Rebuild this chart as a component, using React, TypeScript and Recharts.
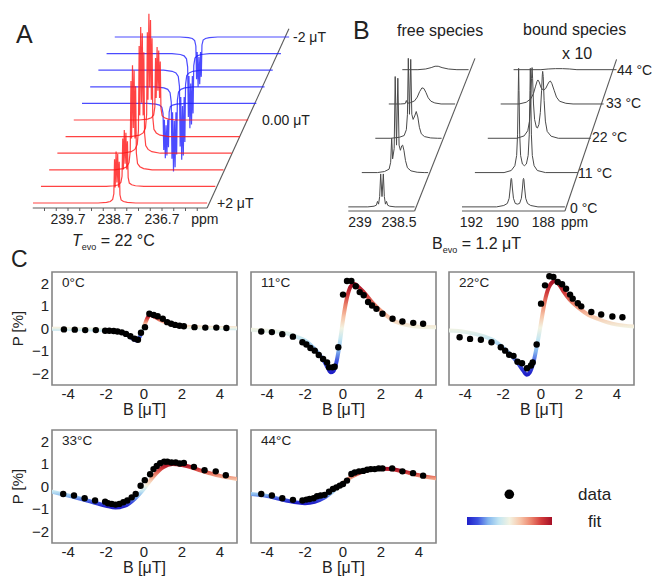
import React from "react";
import {
  ComposedChart,
  LineChart,
  Line,
  Scatter,
  XAxis,
  YAxis,
  ReferenceLine,
  ReferenceArea,
} from "recharts";

const FONT = "'Liberation Sans', Arial, Helvetica, sans-serif";
const INK = "#222";

// ---------- A: spectra vs evolution field (T_evo = 22 °C) ----------
const fieldsA = [2, 1.6, 1.2, 0.8, 0.4, 0, -0.4, -0.8, -1.2, -1.6, -2];
const ampA = [3.1, 3.4, 6.3, 7.6, 7.4, 4.4, -3.3, -5.1, -5.4, -4.5, -3.0];
const windowA = [240.45, 236.74];
const centerA = 238.66;
// multiplet: [offset ppm, relative height]
const lineshapeA = [
  [0.4, 0], [0.22, 0.012], [0.14, 0.03], [0.09, 0.07], [0.065, 0.18],
  [0.05, 0.85], [0.037, 0.3], [0.017, 1.0], [0.0, 0.4], [-0.017, 0.95], [-0.035, 0.3],
  [-0.05, 0.8], [-0.065, 0.16], [-0.09, 0.06], [-0.14, 0.03], [-0.22, 0.012], [-0.4, 0],
];
const ticksA = [240.2, 239.95, 239.7, 239.45, 239.2, 238.95, 238.7, 238.45, 238.2, 237.95, 237.7, 237.45, 237.2, 236.95];
const majorA = [239.7, 238.7, 237.7];
const majorLabelsA = ["239.7", "238.7", "236.7"];
const ppmPosA = 236.79;

// ---------- B: free / bound species vs temperature (B_evo = 1.2 μT) ----------
const tempsB = ["0 °C", "11 °C", "22 °C", "33 °C", "44 °C"];
const windowFree = [239.15, 238.3];
const windowBound = [192.52, 186.8];
const free0 = [[238.9, 0], [238.82, 0.02], [238.79, 0.05], [238.776, 0.16], [238.762, 0.08], [238.748, 0.3], [238.735, 0.96], [238.718, 0.3], [238.701, 0.96], [238.688, 0.3], [238.674, 0.08], [238.66, 0.16], [238.646, 0.05], [238.62, 0.02], [238.55, 0]];
const free11 = [[238.95, 0], [238.86, 0.03], [238.8, 0.1], [238.78, 0.3], [238.767, 1.0], [238.755, 0.4], [238.735, 0.7], [238.722, 2.8], [238.705, 0.8], [238.688, 2.75], [238.672, 0.8], [238.655, 0.65], [238.638, 0.78], [238.626, 0.8], [238.61, 0.65], [238.59, 0.35], [238.565, 0.14], [238.52, 0.05], [238.44, 0.01], [238.35, 0]];
const free22 = [[238.95, 0], [238.84, 0.03], [238.78, 0.08], [238.752, 0.25], [238.738, 0.7], [238.727, 2.33], [238.712, 0.7], [238.696, 2.3], [238.682, 0.7], [238.665, 0.55], [238.645, 0.65], [238.625, 0.78], [238.605, 0.62], [238.585, 0.32], [238.56, 0.13], [238.52, 0.05], [238.44, 0.01], [238.35, 0]];
const free33 = [[239.0, 0], [238.94, 0.01], [238.925, 0.1], [238.912, 0.02], [238.87, 0.04], [238.82, 0.09], [238.785, 0.2], [238.755, 0.36], [238.725, 0.47], [238.7, 0.45], [238.675, 0.34], [238.645, 0.18], [238.61, 0.08], [238.56, 0.03], [238.48, 0]];
const free44 = [[238.95, 0], [238.85, 0.02], [238.78, 0.06], [238.73, 0.1], [238.69, 0.1], [238.64, 0.06], [238.56, 0.02], [238.45, 0]];
const bound0 = [[190.6, 0], [190.2, 0.04], [190.0, 0.1], [189.9, 0.25], [189.84, 0.55], [189.8, 0.8], [189.78, 0.83], [189.76, 0.8], [189.72, 0.55], [189.66, 0.25], [189.56, 0.1], [189.44, 0.08], [189.32, 0.1], [189.22, 0.25], [189.16, 0.55], [189.12, 0.8], [189.1, 0.83], [189.08, 0.8], [189.04, 0.55], [188.98, 0.25], [188.88, 0.1], [188.7, 0.04], [188.3, 0]];
const bound11 = [[190.9, 0], [190.5, 0.06], [190.3, 0.2], [190.2, 0.5], [190.15, 1.1], [190.11, 2.4], [190.09, 3.04], [190.07, 2.4], [190.03, 1.1], [189.98, 0.5], [189.88, 0.25], [189.77, 0.2], [189.66, 0.25], [189.56, 0.5], [189.5, 1.1], [189.46, 2.4], [189.44, 3.04], [189.42, 2.4], [189.38, 1.1], [189.33, 0.5], [189.23, 0.2], [189.05, 0.06], [188.6, 0]];
const bound22 = [[190.9, 0], [190.5, 0.07], [190.3, 0.22], [190.2, 0.5], [190.14, 1.0], [190.09, 1.75], [190.06, 2.06], [190.03, 1.75], [189.98, 1.0], [189.92, 0.55], [189.82, 0.32], [189.76, 0.3], [189.68, 0.4], [189.6, 0.75], [189.53, 1.4], [189.49, 1.85], [189.47, 1.95], [189.44, 1.8], [189.39, 1.1], [189.32, 0.5], [189.22, 0.2], [189.0, 0.06], [188.6, 0]];
const bound33 = [[191.5, 0], [191.1, 0.05], [190.85, 0.15], [190.7, 0.3], [190.58, 0.52], [190.5, 0.66], [190.45, 0.7], [190.38, 0.64], [190.28, 0.48], [190.15, 0.4], [190.02, 0.45], [189.9, 0.58], [189.82, 0.65], [189.76, 0.67], [189.68, 0.6], [189.55, 0.4], [189.42, 0.2], [189.25, 0.08], [188.9, 0.02], [188.5, 0]];
const bound44 = [[191.0, 0], [190.6, 0.02], [190.2, 0.03], [189.8, 0.03], [189.4, 0.02], [189.0, 0]];
const freeTicks = [239, 238.5];
const boundTicks = [192, 190, 188];
const ppmPosBound = 186.26;

// ---------- C: polarisation vs field, [B μT, P %] ----------
const pts0C = [[-4.22, -0.04], [-3.65, -0.05], [-3.1, -0.07], [-2.54, -0.07], [-2.05, -0.1], [-1.83, -0.1], [-1.6, -0.11], [-1.4, -0.13], [-1.17, -0.17], [-0.95, -0.24], [-0.72, -0.34], [-0.5, -0.45], [-0.32, -0.5], [-0.16, -0.19], [0.05, 0.06], [0.28, 0.65], [0.51, 0.6], [0.72, 0.54], [0.99, 0.43], [1.22, 0.28], [1.43, 0.21], [1.64, 0.16], [1.87, 0.12], [2.1, 0.1], [2.66, 0.06], [3.23, 0.04], [3.81, 0.04], [4.34, 0.02]];
const fit0C = [[-4.85, -0.01], [-3, -0.03], [-2, -0.07], [-1.5, -0.12], [-1, -0.22], [-0.7, -0.38], [-0.5, -0.5], [-0.38, -0.53], [-0.25, -0.4], [-0.1, -0.1], [0.05, 0.2], [0.2, 0.5], [0.35, 0.6], [0.5, 0.55], [0.8, 0.4], [1.2, 0.25], [1.6, 0.15], [2, 0.1], [3, 0.04], [4.9, 0.01]];
const pts11C = [[-4.31, -0.13], [-3.75, -0.16], [-3.2, -0.25], [-2.64, -0.36], [-2.14, -0.61], [-1.93, -0.71], [-1.72, -0.86], [-1.49, -0.98], [-1.28, -1.17], [-1.05, -1.35], [-0.84, -1.5], [-0.74, -1.72], [-0.56, -1.72], [-0.44, -1.69], [-0.25, -0.83], [0, 1.5], [0.21, 2.1], [0.44, 2.1], [0.67, 1.87], [0.88, 1.61], [1.09, 1.47], [1.32, 1.17], [1.53, 1.02], [1.76, 0.87], [2.08, 0.65], [2.61, 0.43], [3.13, 0.31], [3.7, 0.25], [4.22, 0.21]];
const fit11C = [[-4.85, -0.06], [-4, -0.1], [-3, -0.2], [-2.5, -0.35], [-2, -0.53], [-1.5, -0.9], [-1.2, -1.2], [-1, -1.45], [-0.8, -1.75], [-0.65, -1.94], [-0.5, -1.88], [-0.35, -1.5], [-0.2, -0.8], [-0.05, 0.1], [0.1, 0.9], [0.25, 1.5], [0.4, 1.85], [0.6, 1.97], [0.8, 1.85], [1.1, 1.6], [1.6, 1.1], [2, 0.78], [2.6, 0.38], [3.3, 0.16], [4, 0.08], [4.9, 0.06]];
const pts22C = [[-4.29, -0.39], [-3.74, -0.46], [-3.17, -0.5], [-2.61, -0.61], [-2.12, -0.83], [-1.89, -0.98], [-1.68, -1.16], [-1.45, -1.21], [-1.24, -1.47], [-1.0, -1.54], [-0.74, -1.76], [-0.53, -1.64], [-0.44, -1.5], [-0.23, -0.71], [0, 1.1], [0.21, 1.91], [0.44, 2.31], [0.65, 2.28], [0.88, 2.06], [1.11, 1.96], [1.32, 1.76], [1.53, 1.5], [1.67, 1.32], [1.94, 1.12], [2.12, 0.98], [2.65, 0.73], [3.17, 0.62], [3.76, 0.53], [4.29, 0.5]];
const fit22C = [[-4.85, -0.09], [-4, -0.15], [-3, -0.35], [-2.5, -0.52], [-2, -0.85], [-1.5, -1.25], [-1.2, -1.55], [-0.95, -1.85], [-0.75, -2.05], [-0.6, -1.95], [-0.4, -1.5], [-0.2, -0.7], [0, 0.25], [0.2, 1.2], [0.4, 1.8], [0.6, 2.05], [0.75, 2.1], [0.95, 1.95], [1.2, 1.62], [1.5, 1.28], [2, 0.9], [2.5, 0.6], [3, 0.42], [3.5, 0.27], [4, 0.17], [4.9, 0.09]];
const pts33C = [[-4.26, -0.33], [-3.69, -0.4], [-3.13, -0.52], [-2.58, -0.62], [-2.05, -0.67], [-1.9, -0.74], [-1.7, -0.77], [-1.5, -0.8], [-1.3, -0.77], [-1.09, -0.7], [-0.88, -0.62], [-0.65, -0.48], [-0.44, -0.33], [-0.18, 0.03], [0.04, 0.28], [0.32, 0.54], [0.5, 0.77], [0.67, 0.91], [0.85, 1.03], [1.06, 1.1], [1.23, 1.1], [1.45, 1.06], [1.67, 1.06], [1.88, 1.02], [2.1, 1.04], [2.63, 0.87], [3.19, 0.72], [3.78, 0.67], [4.31, 0.5]];
const fit33C = [[-4.85, -0.23], [-4, -0.4], [-3, -0.62], [-2, -0.85], [-1.5, -0.93], [-1, -0.85], [-0.5, -0.55], [0, -0.1], [0.5, 0.45], [1, 0.85], [1.5, 1.0], [2, 0.95], [2.5, 0.85], [3, 0.7], [3.5, 0.58], [4, 0.47], [4.9, 0.33]];
const pts44C = [[-4.31, -0.33], [-3.75, -0.4], [-3.2, -0.52], [-2.64, -0.59], [-2.14, -0.62], [-1.93, -0.58], [-1.76, -0.55], [-1.55, -0.52], [-1.37, -0.43], [-1.18, -0.4], [-0.97, -0.37], [-0.74, -0.23], [-0.53, -0.11], [-0.35, -0.04], [-0.17, 0.04], [0, 0.11], [0.21, 0.26], [0.44, 0.55], [0.62, 0.62], [0.84, 0.67], [1.06, 0.69], [1.27, 0.74], [1.46, 0.77], [1.67, 0.77], [1.88, 0.8], [2.08, 0.8], [2.59, 0.8], [3.13, 0.67], [3.69, 0.59], [4.22, 0.48]];
const fit44C = [[-4.85, -0.33], [-4, -0.42], [-3, -0.62], [-2, -0.74], [-1.5, -0.68], [-1, -0.5], [-0.5, -0.2], [0, 0.15], [0.5, 0.45], [1, 0.65], [1.5, 0.75], [2, 0.79], [2.5, 0.77], [3, 0.7], [3.5, 0.6], [4, 0.5], [4.9, 0.36]];
const bTicks = [-4, -2, 0, 2, 4];
const pTicks = [-2, -1, 0, 1, 2];
const fitColors = ["#a50f26", "#d23b3b", "#ec876f", "#f7c6aa", "#f3f3e2", "#c3e6f2", "#84b6ee", "#3d52e0", "#1f1fc8"];

const GRAY = "#5a5a5a";
const PAD = 16; // room left of the waterfall plots for tick labels

type Tick = { value: number; label?: string; mark?: boolean };

function Waterfall(props: {
  traces: number[][][];
  shift: number;
  xDomain: number[];
  yDomain: number[];
  left: number;
  top: number;
  width: number;
  height: number;
  colorOf: (i: number) => string;
  strokeWidth: number;
  ticks: Tick[];
  axis: number[];
  oblique: number[][];
}) {
  const { traces, shift, xDomain, yDomain, colorOf, ticks, axis, oblique } = props;
  const series = traces.map((t, i) => t.map(([p, v]) => ({ x: p - i * shift, y: i + v })));
  const order = series.map((_, i) => i).reverse();
  const renderTick = (p: any) => {
    const t = ticks.find((k) => k.value === p.payload.value);
    return (
      <g>
        {t?.mark && <line x1={p.x} x2={p.x} y1={p.y} y2={p.y + 3} stroke={GRAY} strokeWidth={1} />}
        {t?.label && (
          <text x={p.x} y={p.y + 16} textAnchor="middle" fontSize={14} fill={INK} fontFamily={FONT}>
            {t.label}
          </text>
        )}
      </g>
    );
  };
  return (
    <div style={{ position: "absolute", left: props.left - PAD, top: props.top }}>
      <LineChart width={props.width + PAD} height={props.height + 24} margin={{ top: 0, right: 0, bottom: 0, left: PAD }}>
        <XAxis
          type="number"
          dataKey="x"
          domain={xDomain}
          reversed
          allowDataOverflow
          ticks={ticks.map((t) => t.value)}
          interval={0}
          tick={renderTick}
          tickLine={false}
          axisLine={false}
          tickSize={0}
          tickMargin={0}
          height={24}
        />
        <YAxis type="number" dataKey="y" domain={yDomain} allowDataOverflow hide />
        <ReferenceLine
          segment={[{ x: axis[0], y: yDomain[0] }, { x: axis[1], y: yDomain[0] }]}
          stroke={GRAY}
          strokeWidth={1.2}
          ifOverflow="visible"
        />
        <ReferenceLine
          segment={[{ x: oblique[0][0], y: oblique[0][1] }, { x: oblique[1][0], y: oblique[1][1] }]}
          stroke={GRAY}
          strokeWidth={1.1}
          ifOverflow="visible"
        />
        {order.map((i) => (
          <Line
            key={i}
            data={series[i]}
            dataKey="y"
            type="linear"
            stroke={colorOf(i)}
            strokeWidth={props.strokeWidth}
            dot={false}
            activeDot={false}
            isAnimationActive={false}
          />
        ))}
      </LineChart>
    </div>
  );
}

function FitPanel(props: { id: string; label: string; pts: number[][]; fit: number[][]; x: number; y: number; yLabels: boolean }) {
  const W = 185, H = 113, YW = 46, MT = 4, MR = 4, XH = 36;
  const pts = props.pts.map(([b, p]) => ({ b, p }));
  const fit = props.fit.map(([b, p]) => ({ b, p }));
  return (
    <div style={{ position: "absolute", left: props.x - YW, top: props.y - MT }}>
      <ComposedChart width={YW + W + MR} height={MT + H + XH} margin={{ top: MT, right: MR, bottom: 0, left: 0 }}>
        <defs>
          <linearGradient id={props.id} x1="0" y1="0" x2="0" y2="1">
            {fitColors.map((c, k) => (
              <stop key={k} offset={k / (fitColors.length - 1)} stopColor={c} />
            ))}
          </linearGradient>
        </defs>
        <XAxis
          type="number"
          dataKey="b"
          domain={[-4.85, 4.9]}
          allowDataOverflow
          ticks={bTicks}
          interval={0}
          tickFormatter={(v: number) => `${v}`}
          tick={{ fontSize: 15, fill: INK, fontFamily: FONT }}
          tickLine={false}
          axisLine={false}
          tickSize={0}
          tickMargin={3}
          height={XH}
          label={{ value: "B [μT]", position: "insideBottom", offset: 6, fontSize: 16, fill: INK, fontFamily: FONT }}
        />
        <YAxis
          type="number"
          dataKey="p"
          domain={[-2.5, 2.5]}
          allowDataOverflow
          ticks={pTicks}
          interval={0}
          width={YW}
          tickFormatter={(v: number) => (v < 0 ? `−${-v}` : `${v}`)}
          tick={props.yLabels ? { fontSize: 15, fill: INK, fontFamily: FONT } : false}
          tickLine={false}
          axisLine={false}
          tickSize={0}
          tickMargin={3}
          label={
            props.yLabels
              ? { value: "P [%]", angle: -90, position: "insideLeft", offset: 12, fontSize: 15, fill: INK, fontFamily: FONT, style: { textAnchor: "middle" } }
              : undefined
          }
        />
        <YAxis
          yAxisId="r"
          orientation="right"
          type="number"
          domain={[-2.5, 2.5]}
          ticks={pTicks}
          interval={0}
          mirror
          width={0}
          tick={false}
          tickSize={3}
          tickLine={{ stroke: "#8a8a8a" }}
          axisLine={false}
        />
        <ReferenceArea x1={-4.85} x2={4.9} y1={-2.5} y2={2.5} fill="none" fillOpacity={0} stroke="#858585" strokeWidth={1.6} ifOverflow="visible" />
        <Line
          data={fit}
          dataKey="p"
          type="monotone"
          stroke={`url(#${props.id})`}
          strokeWidth={4}
          strokeLinecap="round"
          dot={false}
          activeDot={false}
          isAnimationActive={false}
        />
        <Scatter
          data={pts}
          dataKey="p"
          isAnimationActive={false}
          shape={(s: any) => <circle cx={s.cx} cy={s.cy} r={3.2} fill="#000" />}
        />
      </ComposedChart>
      <div style={{ position: "absolute", left: YW + 10, top: MT + 3, fontSize: 13.5, color: INK, fontFamily: FONT }}>{props.label}</div>
    </div>
  );
}

function Txt(props: { x: number; y: number; size?: number; children: React.ReactNode }) {
  const size = props.size ?? 14;
  return (
    <div
      style={{
        position: "absolute",
        left: props.x,
        top: props.y - size * 0.6,
        fontSize: size,
        lineHeight: 1.2,
        whiteSpace: "nowrap",
        color: INK,
        fontFamily: FONT,
      }}
    >
      {props.children}
    </div>
  );
}

export default function App() {
  const tracesA = fieldsA.map((_, i) => [
    [windowA[0], 0],
    ...lineshapeA.map(([d, r]) => [centerA + d, ampA[i] * r]),
    [windowA[1], 0],
  ]);
  const ticksAll: Tick[] = [
    ...ticksA.map((v) => {
      const k = majorA.indexOf(v);
      return { value: v, mark: true, label: k >= 0 ? majorLabelsA[k] : undefined };
    }),
    { value: ppmPosA, label: "ppm" },
  ];
  const freeTraces = [free0, free11, free22, free33, free44].map((t) => [[windowFree[0], 0], ...t, [windowFree[1], 0]]);
  const boundTraces = [bound0, bound11, bound22, bound33, bound44].map((t) => [[windowBound[0], 0], ...t, [windowBound[1], 0]]);

  const panelsC = [
    { id: "fit0", label: "0°C", pts: pts0C, fit: fit0C, x: 52, y: 272, yLabels: true },
    { id: "fit11", label: "11°C", pts: pts11C, fit: fit11C, x: 251, y: 272, yLabels: false },
    { id: "fit22", label: "22°C", pts: pts22C, fit: fit22C, x: 449, y: 272, yLabels: false },
    { id: "fit33", label: "33°C", pts: pts33C, fit: fit33C, x: 52, y: 430, yLabels: true },
    { id: "fit44", label: "44°C", pts: pts44C, fit: fit44C, x: 251, y: 430, yLabels: false },
  ];

  return (
    <div style={{ position: "absolute", left: 0, top: 0, width: 653, height: 580, background: "#fff", fontFamily: FONT, overflow: "hidden" }}>
      {/* A */}
      <Waterfall
        traces={tracesA}
        shift={0.1745}
        xDomain={[234.913, 240.445]}
        yDomain={[-0.3, 12.23]}
        left={33}
        top={0}
        width={260}
        height={208}
        colorOf={(i) => (fieldsA[i] >= 0 ? "rgba(255,20,20,0.8)" : "rgba(30,30,255,0.8)")}
        strokeWidth={1.2}
        ticks={ticksAll}
        axis={windowA}
        oblique={[[windowA[1], -0.3], [235.0, 10.5]]}
      />
      <Txt x={16} y={34} size={25}>A</Txt>
      <Txt x={293} y={37}>-2 μT</Txt>
      <Txt x={262} y={120}>0.00 μT</Txt>
      <Txt x={217} y={203}>+2 μT</Txt>
      <Txt x={72} y={241} size={16}>
        <i>T</i>
        <sub style={{ fontSize: 9 }}>evo</sub> = 22 °C
      </Txt>

      {/* B */}
      <Waterfall
        traces={freeTraces}
        shift={0.1731}
        xDomain={[237.423, 239.154]}
        yDomain={[-0.12, 4.865]}
        left={348}
        top={40}
        width={135}
        height={171}
        colorOf={() => "#4a4a4a"}
        strokeWidth={1}
        ticks={freeTicks.map((v) => ({ value: v, label: `${v}` }))}
        axis={[windowFree[0], windowFree[1]]}
        oblique={[[windowFree[1], -0.12], [237.526, 4.33]]}
      />
      <Waterfall
        traces={boundTraces}
        shift={0.7167}
        xDomain={[183.74, 192.52]}
        yDomain={[-0.12, 4.865]}
        left={462}
        top={40}
        width={158}
        height={171}
        colorOf={() => "#4a4a4a"}
        strokeWidth={1}
        ticks={[...boundTicks.map((v) => ({ value: v, label: `${v}` })), { value: ppmPosBound, label: "ppm" }]}
        axis={[windowBound[0], windowBound[1]]}
        oblique={[[windowBound[1], -0.12], [183.93, 4.3]]}
      />
      <Txt x={353} y={30} size={25}>B</Txt>
      <Txt x={397} y={31} size={16}>free species</Txt>
      <Txt x={523} y={30} size={16}>bound species</Txt>
      <Txt x={562} y={54} size={16}>x 10</Txt>
      {tempsB.map((t, i) => (
        <Txt key={t} x={[570, 578, 592, 606, 617][i]} y={[208, 173, 137, 103, 70][i]}>
          {t}
        </Txt>
      ))}
      <Txt x={432} y={244} size={16}>
        B<sub style={{ fontSize: 9 }}>evo</sub> = 1.2 μT
      </Txt>

      {/* C */}
      <Txt x={11} y={260} size={23}>C</Txt>
      {panelsC.map((p) => (
        <FitPanel key={p.id} {...p} />
      ))}
      <svg style={{ position: "absolute", left: 460, top: 485 }} width={100} height={50}>
        <defs>
          <linearGradient id="fitLegend" x1="0" y1="0" x2="1" y2="0">
            {fitColors
              .slice()
              .reverse()
              .map((c, k) => (
                <stop key={k} offset={k / (fitColors.length - 1)} stopColor={c} />
              ))}
          </linearGradient>
        </defs>
        <circle cx={49.3} cy={9.3} r={4.8} fill="#000" />
        <rect x={7} y={32} width={85} height={8} fill="url(#fitLegend)" />
      </svg>
      <Txt x={578} y={495} size={17}>data</Txt>
      <Txt x={588} y={522} size={17}>fit</Txt>
    </div>
  );
}
